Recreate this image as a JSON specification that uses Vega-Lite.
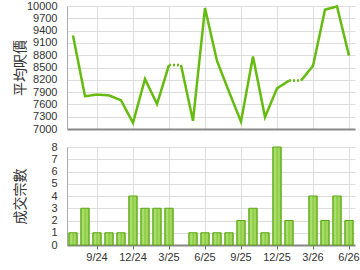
{
  "$schema": "https://vega.github.io/schema/vega-lite/v6.json",
  "padding": {"left": 12, "top": 0, "right": 6, "bottom": 0},
  "background": "white",
  "spacing": 7,
  "config": {
    "view": {"stroke": null},
    "font": "Liberation Sans",
    "axis": {
      "labelFont": "Liberation Sans",
      "labelFontSize": 11,
      "labelColor": "#333333",
      "gridColor": "#dddddd",
      "gridWidth": 1,
      "titleFont": "Noto Sans CJK TC",
      "titleFontSize": 14,
      "titleFontWeight": "normal",
      "titleColor": "#333333"
    }
  },
  "datasets": {
    "price": [
      {"m": "7/24", "price": 9280, "seg": "s1", "style": "solid"},
      {"m": "8/24", "price": 7800, "seg": "s1", "style": "solid"},
      {"m": "9/24", "price": 7840, "seg": "s1", "style": "solid"},
      {"m": "10/24", "price": 7820, "seg": "s1", "style": "solid"},
      {"m": "11/24", "price": 7700, "seg": "s1", "style": "solid"},
      {"m": "12/24", "price": 7150, "seg": "s1", "style": "solid"},
      {"m": "1/25", "price": 8220, "seg": "s1", "style": "solid"},
      {"m": "2/25", "price": 7610, "seg": "s1", "style": "solid"},
      {"m": "3/25", "price": 8560, "seg": "s1", "style": "solid"},
      {"m": "3/25", "price": 8560, "seg": "d1", "style": "dotted"},
      {"m": "4/25", "price": 8560, "seg": "d1", "style": "dotted"},
      {"m": "4/25", "price": 8560, "seg": "s2", "style": "solid"},
      {"m": "5/25", "price": 7200, "seg": "s2", "style": "solid"},
      {"m": "6/25", "price": 9950, "seg": "s2", "style": "solid"},
      {"m": "7/25", "price": 8660, "seg": "s2", "style": "solid"},
      {"m": "8/25", "price": 7910, "seg": "s2", "style": "solid"},
      {"m": "9/25", "price": 7180, "seg": "s2", "style": "solid"},
      {"m": "10/25", "price": 8770, "seg": "s2", "style": "solid"},
      {"m": "11/25", "price": 7290, "seg": "s2", "style": "solid"},
      {"m": "12/25", "price": 7990, "seg": "s2", "style": "solid"},
      {"m": "1/26", "price": 8180, "seg": "s2", "style": "solid"},
      {"m": "1/26", "price": 8180, "seg": "d2", "style": "dotted"},
      {"m": "2/26", "price": 8180, "seg": "d2", "style": "dotted"},
      {"m": "2/26", "price": 8180, "seg": "s3", "style": "solid"},
      {"m": "3/26", "price": 8540, "seg": "s3", "style": "solid"},
      {"m": "4/26", "price": 9910, "seg": "s3", "style": "solid"},
      {"m": "5/26", "price": 9990, "seg": "s3", "style": "solid"},
      {"m": "6/26", "price": 8790, "seg": "s3", "style": "solid"}
    ],
    "deals": [
      {"m": "7/24", "n": 1}, {"m": "8/24", "n": 3}, {"m": "9/24", "n": 1},
      {"m": "10/24", "n": 1}, {"m": "11/24", "n": 1}, {"m": "12/24", "n": 4},
      {"m": "1/25", "n": 3}, {"m": "2/25", "n": 3}, {"m": "3/25", "n": 3},
      {"m": "5/25", "n": 1}, {"m": "6/25", "n": 1}, {"m": "7/25", "n": 1},
      {"m": "8/25", "n": 1}, {"m": "9/25", "n": 2}, {"m": "10/25", "n": 3},
      {"m": "11/25", "n": 1}, {"m": "12/25", "n": 8}, {"m": "1/26", "n": 2},
      {"m": "3/26", "n": 4}, {"m": "4/26", "n": 2}, {"m": "5/26", "n": 4},
      {"m": "6/26", "n": 2}
    ]
  },
  "vconcat": [
    {
      "width": 288,
      "height": 123,
      "data": {"name": "price"},
      "mark": {"type": "line", "strokeWidth": 2.5, "color": "#66bb11", "strokeCap": "butt"},
      "encoding": {
        "x": {
          "field": "m", "type": "ordinal",
          "scale": {"domain": ["7/24","8/24","9/24","10/24","11/24","12/24","1/25","2/25","3/25","4/25","5/25","6/25","7/25","8/25","9/25","10/25","11/25","12/25","1/26","2/26","3/26","4/26","5/26","6/26"], "type": "point", "padding": 0.5},
          "axis": {"title": null, "labels": false, "ticks": false, "grid": true, "values": ["9/24","12/24","3/25","6/25","9/25","12/25","3/26","6/26"], "domainColor": "#888888", "domainWidth": 2}
        },
        "y": {
          "field": "price", "type": "quantitative",
          "scale": {"domain": [7000, 10000], "nice": false, "zero": false},
          "axis": {"title": "平均呎價", "format": "d", "values": [7000,7300,7600,7900,8200,8500,8800,9100,9400,9700,10000], "ticks": false, "labelPadding": 10, "domainColor": "#aaaaaa", "titleX": -40, "titlePadding": 6}
        },
        "detail": {"field": "seg"},
        "strokeDash": {"field": "style", "type": "nominal", "scale": {"domain": ["solid", "dotted"], "range": [[1, 0], [2, 2]]}, "legend": null}
      }
    },
    {
      "width": 288,
      "height": 98,
      "data": {"name": "deals"},
      "mark": {
        "type": "bar",
        "stroke": "#5ca812",
        "strokeWidth": 1,
        "color": {
          "gradient": "linear", "x1": 0, "x2": 1, "y1": 0, "y2": 0,
          "stops": [
            {"offset": 0, "color": "#6cb820"},
            {"offset": 0.25, "color": "#b8e480"},
            {"offset": 0.5, "color": "#8acc42"},
            {"offset": 0.75, "color": "#acdc6c"},
            {"offset": 1, "color": "#6cb820"}
          ]
        }
      },
      "encoding": {
        "x": {
          "field": "m", "type": "ordinal",
          "scale": {"domain": ["7/24","8/24","9/24","10/24","11/24","12/24","1/25","2/25","3/25","4/25","5/25","6/25","7/25","8/25","9/25","10/25","11/25","12/25","1/26","2/26","3/26","4/26","5/26","6/26"], "paddingInner": 0.3, "paddingOuter": 0.15},
          "axis": {"title": null, "labelAngle": 0, "grid": true, "bandPosition": 0.5, "values": ["9/24","12/24","3/25","6/25","9/25","12/25","3/26","6/26"], "domainColor": "#888888", "domainWidth": 2, "tickColor": "#666666", "tickSize": 4, "labelPadding": 2, "labelFontSize": 11}
        },
        "y": {
          "field": "n", "type": "quantitative",
          "scale": {"domain": [0, 8], "nice": false},
          "axis": {"title": "成交宗數", "values": [0,1,2,3,4,5,6,7,8], "ticks": false, "labelPadding": 10, "domainColor": "#aaaaaa", "titleX": -40, "titlePadding": 6}
        }
      }
    }
  ]
}
